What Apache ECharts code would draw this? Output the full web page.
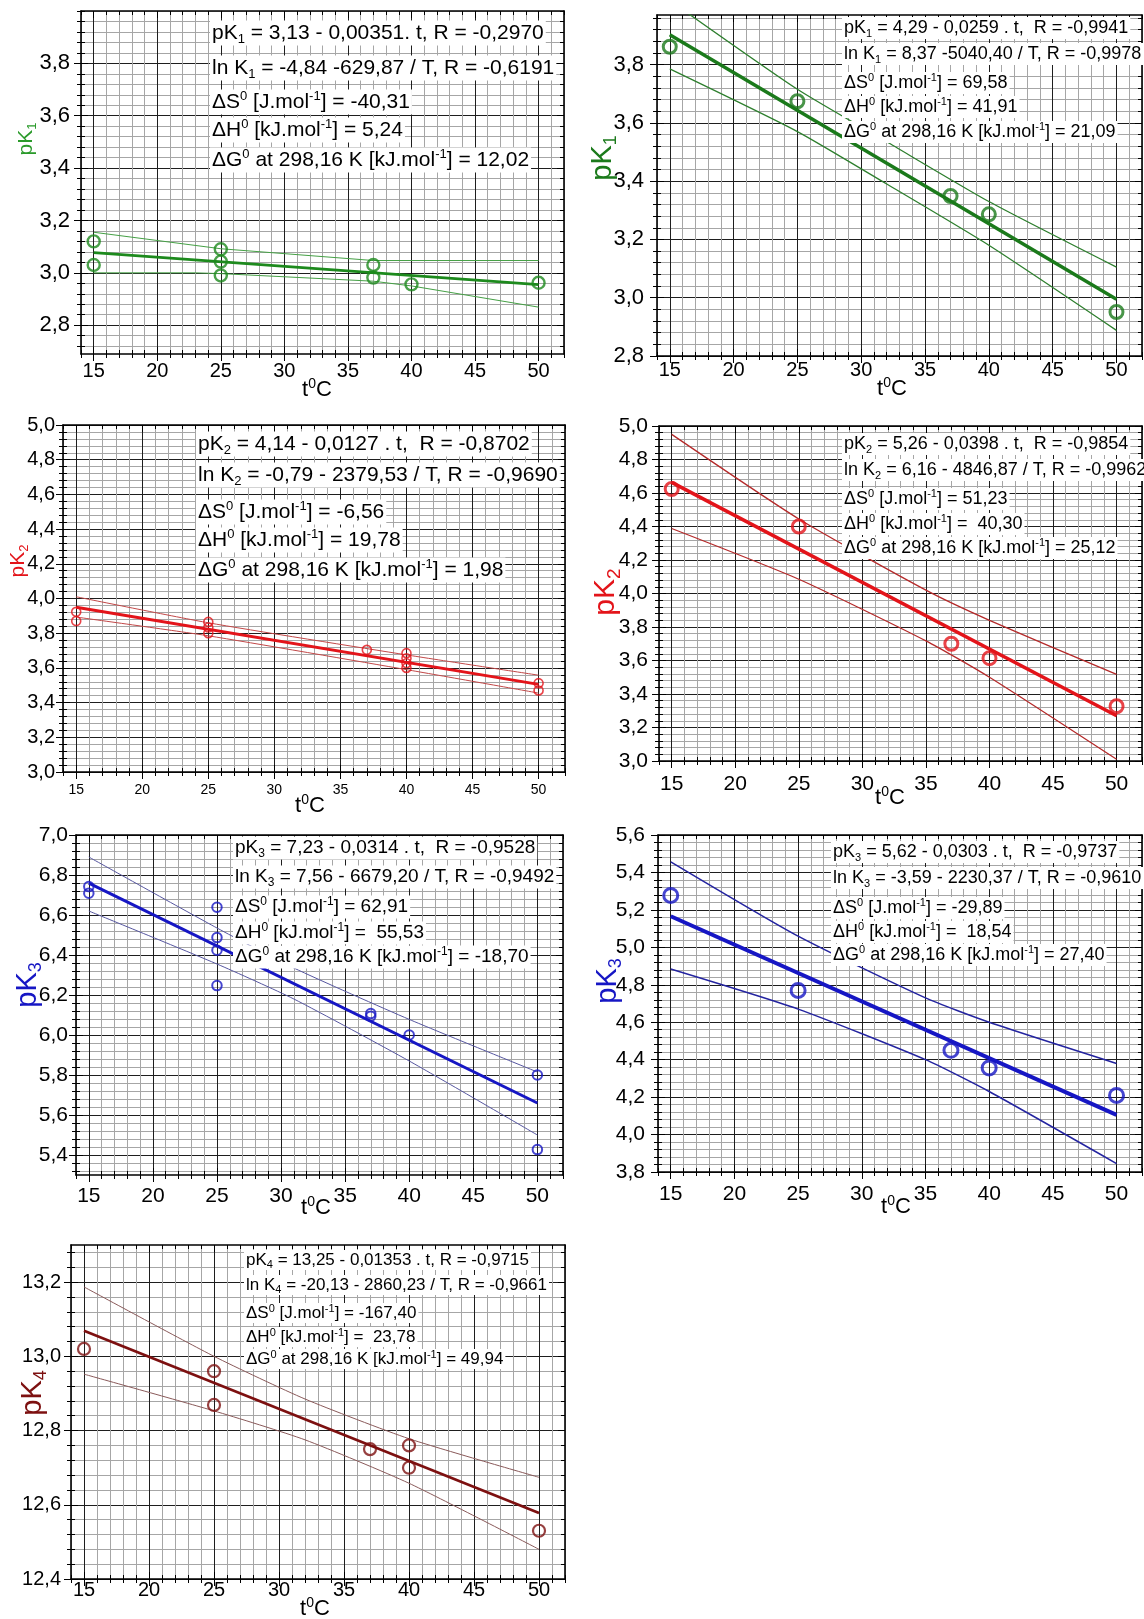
<!DOCTYPE html>
<html>
<head>
<meta charset="utf-8">
<script src="https://cdn.jsdelivr.net/npm/echarts@6/dist/echarts.min.js"></script>
<style>
html, body { margin: 0; padding: 0; background: #fff; }
#chart { width: 1144px; height: 1619px; }
</style>
</head>
<body>
<div id="chart"></div>
<script>
// ---------- data: pK values against temperature t (°C) ----------
const xTicks = [15, 20, 25, 30, 35, 40, 45, 50];

// pK1, first series
const tA1 = [15, 15, 25, 25, 25, 37, 37, 40, 50];
const pA1 = [3.12, 3.03, 3.09, 3.043, 2.99, 3.03, 2.982, 2.956, 2.962];
const fitTA1 = [15, 50], fitPA1 = [3.077, 2.955];
const hiTA1 = [15, 25, 37, 50], hiPA1 = [3.155, 3.092, 3.047, 3.047];
const loTA1 = [15, 23, 25, 37, 40, 50], loPA1 = [3.0, 3.0, 2.997, 2.968, 2.95, 2.869];
const yTicksA1 = [2.8, 3.0, 3.2, 3.4, 3.6, 3.8];
const notesA1 = [
  'pK{s|1} = 3,13 - 0,00351. t, R = -0,2970',
  'ln K{s|1} = -4,84 -629,87 / T, R = -0,6191',
  '\u0394S{p|0} [J.mol{p|-1}] = -40,31',
  '\u0394H{p|0} [kJ.mol{p|-1}] = 5,24',
  '\u0394G{p|0} at 298,16 K [kJ.mol{p|-1}] = 12,02'
];

// pK1, second series
const tB1 = [15, 25, 37, 40, 50];
const pB1 = [3.861, 3.674, 3.349, 3.286, 2.951];
const fitTB1 = [15, 50], fitPB1 = [3.902, 2.995];
const hiTB1 = [15, 25, 32, 40, 50], hiPB1 = [4.02, 3.715, 3.535, 3.33, 3.105];
const loTB1 = [15, 25, 32, 40, 50], loPB1 = [3.785, 3.57, 3.39, 3.18, 2.888];
const yTicksB1 = [2.8, 3.0, 3.2, 3.4, 3.6, 3.8];
const notesB1 = [
  'pK{s|1} = 4,29 - 0,0259 . t,  R = -0,9941',
  'ln K{s|1} = 8,37 -5040,40 / T, R = -0,9978',
  '\u0394S{p|0} [J.mol{p|-1}] = 69,58',
  '\u0394H{p|0} [kJ.mol{p|-1}] = 41,91',
  '\u0394G{p|0} at 298,16 K [kJ.mol{p|-1}] = 21,09'
];

// pK2, first series
const tA2 = [15, 15, 25, 25, 25, 37, 40, 40, 40, 40, 50, 50];
const pA2 = [3.923, 3.87, 3.865, 3.833, 3.80, 3.704, 3.685, 3.656, 3.627, 3.60, 3.512, 3.47];
const fitTA2 = [15, 50], fitPA2 = [3.95, 3.505];
const hiTA2 = [15, 25, 40, 50], hiPA2 = [4.01, 3.86, 3.675, 3.558];
const loTA2 = [15, 25, 40, 50], loPA2 = [3.893, 3.785, 3.59, 3.455];
const yTicksA2 = [3.0, 3.2, 3.4, 3.6, 3.8, 4.0, 4.2, 4.4, 4.6, 4.8, 5.0];
const notesA2 = [
  'pK{s|2} = 4,14 - 0,0127 . t,  R = -0,8702',
  'ln K{s|2} = -0,79 - 2379,53 / T, R = -0,9690',
  '\u0394S{p|0} [J.mol{p|-1}] = -6,56',
  '\u0394H{p|0} [kJ.mol{p|-1}] = 19,78',
  '\u0394G{p|0} at 298,16 K [kJ.mol{p|-1}] = 1,98'
];

// pK2, second series
const tB2 = [15, 25, 37, 40, 50];
const pB2 = [4.624, 4.40, 3.70, 3.614, 3.327];
const fitTB2 = [15, 50], fitPB2 = [4.663, 3.27];
const hiTB2 = [15, 25, 35, 40, 50], hiPB2 = [4.95, 4.445, 4.02, 3.84, 3.517];
const loTB2 = [15, 25, 35, 40, 50], loPB2 = [4.388, 4.085, 3.717, 3.50, 3.01];
const yTicksB2 = [3.0, 3.2, 3.4, 3.6, 3.8, 4.0, 4.2, 4.4, 4.6, 4.8, 5.0];
const notesB2 = [
  'pK{s|2} = 5,26 - 0,0398 . t,  R = -0,9854',
  'ln K{s|2} = 6,16 - 4846,87 / T, R = -0,9962',
  '\u0394S{p|0} [J.mol{p|-1}] = 51,23',
  '\u0394H{p|0} [kJ.mol{p|-1}] =  40,30',
  '\u0394G{p|0} at 298,16 K [kJ.mol{p|-1}] = 25,12'
];

// pK3, first series
const tA3 = [15, 15, 25, 25, 25, 25, 37, 37, 40, 50, 50];
const pA3 = [6.742, 6.709, 6.639, 6.487, 6.424, 6.247, 6.107, 6.094, 6.0, 5.80, 5.427];
const fitTA3 = [15, 50], fitPA3 = [6.759, 5.66];
const hiTA3 = [15, 25, 31, 40, 50], hiPA3 = [6.89, 6.535, 6.335, 6.078, 5.815];
const loTA3 = [15, 25, 31, 40, 50], loPA3 = [6.62, 6.355, 6.18, 5.87, 5.50];
const yTicksA3 = [5.4, 5.6, 5.8, 6.0, 6.2, 6.4, 6.6, 6.8, 7.0];
const notesA3 = [
  'pK{s|3} = 7,23 - 0,0314 . t,  R = -0,9528',
  'ln K{s|3} = 7,56 - 6679,20 / T, R = -0,9492',
  '\u0394S{p|0} [J.mol{p|-1}] = 62,91',
  '\u0394H{p|0} [kJ.mol{p|-1}] =  55,53',
  '\u0394G{p|0} at 298,16 K [kJ.mol{p|-1}] = -18,70'
];

// pK3, second series
const tB3 = [15, 25, 37, 40, 50];
const pB3 = [5.277, 4.77, 4.45, 4.356, 4.209];
const fitTB3 = [15, 50], fitPB3 = [5.166, 4.105];
const hiTB3 = [15, 25, 35, 40, 50], hiPB3 = [5.457, 5.06, 4.73, 4.60, 4.38];
const loTB3 = [15, 25, 35, 40, 50], loPB3 = [4.884, 4.67, 4.40, 4.23, 3.845];
const yTicksB3 = [3.8, 4.0, 4.2, 4.4, 4.6, 4.8, 5.0, 5.2, 5.4, 5.6];
const notesB3 = [
  'pK{s|3} = 5,62 - 0,0303 . t,  R = -0,9737',
  'ln K{s|3} = -3,59 - 2230,37 / T, R = -0,9610',
  '\u0394S{p|0} [J.mol{p|-1}] = -29,89',
  '\u0394H{p|0} [kJ.mol{p|-1}] =  18,54',
  '\u0394G{p|0} at 298,16 K [kJ.mol{p|-1}] = 27,40'
];

// pK4
const tA4 = [15, 25, 25, 37, 40, 40, 50];
const pA4 = [13.02, 12.96, 12.869, 12.75, 12.76, 12.70, 12.53];
const fitTA4 = [15, 50], fitPA4 = [13.069, 12.578];
const hiTA4 = [15, 25, 32, 40, 50], hiPA4 = [13.187, 13.0, 12.885, 12.778, 12.674];
const loTA4 = [15, 25, 32, 40, 50], loPA4 = [12.952, 12.853, 12.775, 12.658, 12.48];
const yTicksA4 = [12.4, 12.6, 12.8, 13.0, 13.2];
const notesA4 = [
  'pK{s|4} = 13,25 - 0,01353 . t, R = -0,9715',
  'ln K{s|4} = -20,13 - 2860,23 / T, R = -0,9661',
  '\u0394S{p|0} [J.mol{p|-1}] = -167,40',
  '\u0394H{p|0} [kJ.mol{p|-1}] =  23,78',
  '\u0394G{p|0} at 298,16 K [kJ.mol{p|-1}] = 49,94'
];

// ---------- layout and styling of the seven panels ----------
const FONT = '"Liberation Sans", Arial, Helvetica, sans-serif';
const MAJOR_GRID = '#1e1e1e';
const MINOR_GRID = '#a6a6a6';
const X_MIN = 14, X_MAX = 52;

const panels = [
  { t: tA1, p: pA1, fitT: fitTA1, fitP: fitPA1, hiT: hiTA1, hiP: hiPA1, loT: loTA1, loP: loPA1,
    yTicks: yTicksA1, notes: notesA1, yMin: 2.69, yMax: 4.0, name: 'pK{s|1}',
    box: [81, 11, 564, 354], color: '#1d8a1d', band: '#45a045', nameColor: '#2a9a2a',
    sym: 12, symW: 2.4, fitW: 2.6, bandW: 1, smooth: false,
    yFont: 22, yMargin: 11, xFont: 20, xMargin: 7,
    notesAt: [210, [33, 68, 102, 130, 160]], notesFont: 21,
    nameAt: [26, 139], nameFont: 21, titleAt: [317, 390] },
  { t: tB1, p: pB1, fitT: fitTB1, fitP: fitPB1, hiT: hiTB1, hiP: hiPB1, loT: loTB1, loP: loPB1,
    yTicks: yTicksB1, notes: notesB1, yMin: 2.8, yMax: 3.97, name: 'pK{s|1}',
    box: [657, 15, 1142, 356], color: '#1b7a1b', band: '#2e7f2e', nameColor: '#1b7a1b',
    sym: 13, symW: 3, fitW: 3.5, bandW: 1.3, smooth: 0.2,
    yFont: 22, yMargin: 13, xFont: 20, xMargin: 4,
    notesAt: [842, [28, 54, 83, 107, 132]], notesFont: 18,
    nameAt: [603, 158], nameFont: 29, titleAt: [892, 389] },
  { t: tA2, p: pA2, fitT: fitTA2, fitP: fitPA2, hiT: hiTA2, hiP: hiPA2, loT: loTA2, loP: loPA2,
    yTicks: yTicksA2, notes: notesA2, yMin: 3.0, yMax: 5.0, name: 'pK{s|2}',
    box: [63, 425, 565, 772], color: '#e3141a', band: '#c24848', nameColor: '#e3141a',
    sym: 9, symW: 1.6, fitW: 3, bandW: 1, smooth: 0.2,
    yFont: 20, yMargin: 8, xFont: 14, xMargin: 11,
    notesAt: [196, [444, 475, 512, 540, 570]], notesFont: 21,
    nameAt: [18, 561], nameFont: 21, titleAt: [310, 806] },
  { t: tB2, p: pB2, fitT: fitTB2, fitP: fitPB2, hiT: hiTB2, hiP: hiPB2, loT: loTB2, loP: loPB2,
    yTicks: yTicksB2, notes: notesB2, yMin: 3.0, yMax: 5.0, name: 'pK{s|2}',
    box: [659, 426, 1142, 761], color: '#e3141a', band: '#b52a2a', nameColor: '#e3141a',
    sym: 13, symW: 3, fitW: 3.6, bandW: 1.3, smooth: 0.2,
    yFont: 21, yMargin: 11, xFont: 21, xMargin: 13,
    notesAt: [842, [444, 470, 499, 524, 548]], notesFont: 18,
    nameAt: [606, 592], nameFont: 30, titleAt: [890, 798] },
  { t: tA3, p: pA3, fitT: fitTA3, fitP: fitPA3, hiT: hiTA3, hiP: hiPA3, loT: loTA3, loP: loPA3,
    yTicks: yTicksA3, notes: notesA3, yMin: 5.3, yMax: 7.0, name: 'pK{s|3}',
    box: [76, 835, 563, 1175], color: '#1616c4', band: '#5656a0', nameColor: '#1616c4',
    sym: 9.5, symW: 2, fitW: 3, bandW: 1, smooth: 0.2,
    yFont: 21, yMargin: 8, xFont: 21, xMargin: 11,
    notesAt: [233, [848, 877, 907, 933, 957]], notesFont: 19,
    nameAt: [28, 985], nameFont: 29, titleAt: [316, 1208] },
  { t: tB3, p: pB3, fitT: fitTB3, fitP: fitPB3, hiT: hiTB3, hiP: hiPB3, loT: loTB3, loP: loPB3,
    yTicks: yTicksB3, notes: notesB3, yMin: 3.8, yMax: 5.6, name: 'pK{s|3}',
    box: [658, 835, 1142, 1172], color: '#1616c4', band: '#2424a0', nameColor: '#1616c4',
    sym: 14, symW: 3, fitW: 4, bandW: 1.5, smooth: 0.2,
    yFont: 21, yMargin: 13, xFont: 21, xMargin: 12,
    notesAt: [831, [852, 878, 908, 932, 955]], notesFont: 18,
    nameAt: [608, 981], nameFont: 29, titleAt: [896, 1207] },
  { t: tA4, p: pA4, fitT: fitTA4, fitP: fitPA4, hiT: hiTA4, hiP: hiPA4, loT: loTA4, loP: loPA4,
    yTicks: yTicksA4, notes: notesA4, yMin: 12.4, yMax: 13.3, name: 'pK{s|4}',
    box: [71, 1245, 565, 1579], color: '#7d1010', band: '#8a5a5a', nameColor: '#7d1010',
    sym: 12, symW: 2.2, fitW: 2.6, bandW: 1, smooth: 0.2,
    yFont: 20, yMargin: 10, xFont: 20, xMargin: 1,
    notesAt: [244, [1260, 1285, 1313, 1337, 1359]], notesFont: 17,
    nameAt: [33, 1393], nameFont: 29, titleAt: [315, 1609] }
];

// ---------- helpers ----------
function stepValues(a, b, step) {
  const out = [];
  const k0 = Math.ceil(a / step - 1e-9), k1 = Math.floor(b / step + 1e-9);
  for (let k = k0; k <= k1; k++) out.push(+(k * step).toFixed(4));
  return out;
}
function pairs(xs, ys) { return xs.map((x, i) => [x, ys[i]]); }
const fmtComma = v => (Math.round(v * 10) / 10).toFixed(1).replace('.', ',');

function makeAxis(gi, position, min, max, ticks, o) {
  return {
    type: 'value', gridIndex: gi, position, min, max,
    axisLine: { show: !!o.line, onZero: false, lineStyle: { color: '#000', width: 1.6 } },
    axisTick: { show: true, inside: !!o.inside, length: o.len, customValues: ticks,
                lineStyle: { color: '#000', width: 1 } },
    axisLabel: o.label ? Object.assign({ show: true, customValues: ticks, color: '#000',
                fontFamily: FONT, showMinLabel: true, showMaxLabel: true }, o.label)
              : { show: false },
    splitLine: o.split ? { show: true, lineStyle: { color: o.split, width: 1 } } : { show: false },
    splitArea: { show: false },
    silent: true
  };
}

function richStyles(size, color) {
  const small = Math.round(size * 0.62);
  return {
    s: { fontSize: small, fontFamily: FONT, lineHeight: small, verticalAlign: 'bottom', fill: color },
    p: { fontSize: small, fontFamily: FONT, lineHeight: small, verticalAlign: 'top', fill: color }
  };
}

function textEl(x, y, text, size, color, opts) {
  opts = opts || {};
  const style = {
    text, x: 0, y: 0, fill: color, fontSize: size, fontFamily: FONT,
    lineHeight: Math.round(size * 1.2), verticalAlign: 'middle', align: opts.align || 'left',
    rich: richStyles(size, color)
  };
  if (opts.bg) { style.backgroundColor = '#fff'; style.padding = [0, 2]; }
  return { type: 'text', x, y, rotation: opts.rotation || 0, z: 50, silent: true, style };
}

// ---------- build option ----------
const grids = [], xAxes = [], yAxes = [], series = [], graphics = [];

panels.forEach((pn, gi) => {
  const [L, T, R, B] = pn.box;
  grids.push({ left: L, top: T, width: R - L, height: B - T, containLabel: false, outerBoundsMode: 'none' });

  const xMinor = stepValues(X_MIN, X_MAX, 1);
  const yMinor = stepValues(pn.yMin, pn.yMax, 0.04);
  const xb = xAxes.length, yb = yAxes.length;

  xAxes.push(
    makeAxis(gi, 'bottom', X_MIN, X_MAX, xMinor, { len: 4, split: MINOR_GRID }),
    makeAxis(gi, 'bottom', X_MIN, X_MAX, xMinor, { len: 4, inside: true }),
    makeAxis(gi, 'top', X_MIN, X_MAX, xMinor, { len: 4, inside: true }),
    makeAxis(gi, 'bottom', X_MIN, X_MAX, xTicks, { len: 7, split: MAJOR_GRID, line: true,
      label: { fontSize: pn.xFont, margin: pn.xMargin, formatter: v => String(Math.round(v)) } }),
    makeAxis(gi, 'bottom', X_MIN, X_MAX, xTicks, { len: 7, inside: true }),
    makeAxis(gi, 'top', X_MIN, X_MAX, xTicks, { len: 7, inside: true, line: true })
  );
  yAxes.push(
    makeAxis(gi, 'left', pn.yMin, pn.yMax, yMinor, { len: 4, split: MINOR_GRID }),
    makeAxis(gi, 'left', pn.yMin, pn.yMax, yMinor, { len: 4, inside: true }),
    makeAxis(gi, 'right', pn.yMin, pn.yMax, yMinor, { len: 4, inside: true }),
    makeAxis(gi, 'left', pn.yMin, pn.yMax, pn.yTicks, { len: 7, split: MAJOR_GRID, line: true,
      label: { fontSize: pn.yFont, margin: pn.yMargin, formatter: fmtComma } }),
    makeAxis(gi, 'left', pn.yMin, pn.yMax, pn.yTicks, { len: 7, inside: true }),
    makeAxis(gi, 'right', pn.yMin, pn.yMax, pn.yTicks, { len: 7, inside: true, line: true })
  );

  const ax = { xAxisIndex: xb + 3, yAxisIndex: yb + 3 };
  const bandLine = (xs, ys) => Object.assign({
    type: 'line', data: pairs(xs, ys), showSymbol: false, symbol: 'none', smooth: pn.smooth,
    clip: true, z: 3, silent: true,
    lineStyle: { color: pn.band, width: pn.bandW }
  }, ax);
  series.push(bandLine(pn.hiT, pn.hiP));
  series.push(bandLine(pn.loT, pn.loP));
  series.push(Object.assign({
    type: 'line', data: pairs(pn.fitT, pn.fitP), showSymbol: false, symbol: 'none',
    clip: true, z: 4, silent: true,
    lineStyle: { color: pn.color, width: pn.fitW }
  }, ax));
  series.push(Object.assign({
    type: 'scatter', data: pairs(pn.t, pn.p), symbol: 'circle', symbolSize: pn.sym, z: 5, silent: true,
    itemStyle: { color: 'rgba(255,255,255,0)', borderColor: pn.color, borderWidth: pn.symW }
  }, ax));

  // regression summary, one white-backed row per line
  const [nx, rows] = pn.notesAt;
  pn.notes.forEach((line, i) => graphics.push(textEl(nx, rows[i], line, pn.notesFont, '#000', { bg: true })));

  // axis titles
  graphics.push(textEl(pn.nameAt[0], pn.nameAt[1], pn.name, pn.nameFont, pn.nameColor,
    { align: 'center', rotation: Math.PI / 2 }));
  graphics.push(textEl(pn.titleAt[0], pn.titleAt[1], 't{p|0}C', 22, '#000', { align: 'center' }));
});

const chart = echarts.init(document.getElementById('chart'), null, { renderer: 'canvas' });
chart.setOption({
  animation: false,
  backgroundColor: '#fff',
  grid: grids,
  xAxis: xAxes,
  yAxis: yAxes,
  series: series,
  graphic: { elements: graphics }
});
</script>
</body>
</html>
